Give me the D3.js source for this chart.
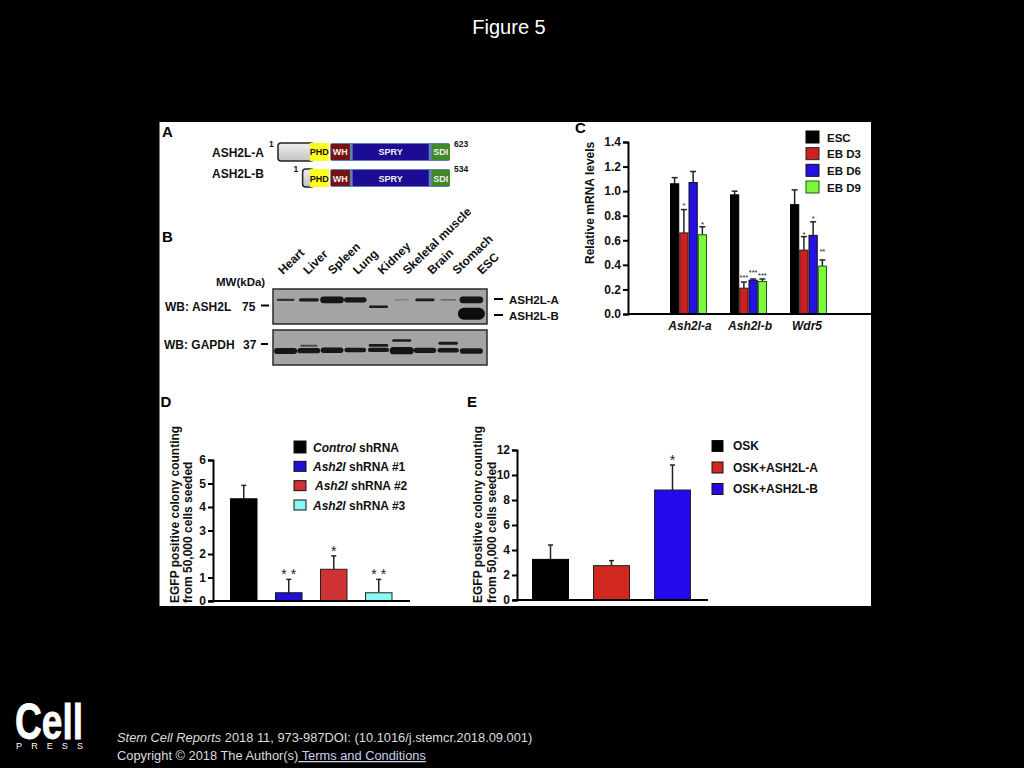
<!DOCTYPE html>
<html lang="en">
<head>
    <meta charset="UTF-8">
    <title>Figure 5</title>
    <script src="https://d3js.org/d3.v7.min.js"></script>
    <style>
        html, body { margin: 0; background: #000; overflow: hidden; }
        svg { display: block; font-family: "Liberation Sans", Arial, sans-serif; }
        .axis path, .axis line { stroke: #000; stroke-width: 2px; }
        .axis text { font-size: 12px; font-weight: bold; fill: #111; }
        .lbl { font-weight: bold; fill: #111; }
    </style>
</head>
<body>
<svg id="fig" width="1024" height="768"></svg>
<script>
    // panel A, domains in amino acids
    const domainNames = ["PHD", "WH", "SPRY", "SDI"];
    const domainStart = [116, 192, 271, 557];
    const domainEnd = [185, 261, 546, 623];
    const domainColors = ["#ffff1e", "#761212", "#1c0c94", "#40882a"];
    const isoforms = ["ASH2L-A", "ASH2L-B"];
    const isoformStart = [1, 90];
    const isoformEnd = [623, 534];

    // panel B, [lane, migration, signal]
    const tissues = ["Heart", "Liver", "Spleen", "Lung", "Kidney", "Skeletal muscle", "Brain", "Stomach", "ESC"];
    const ash2lBands = [[0, .31, .08], [1, .31, .16], [2, .31, .5], [3, .31, .36], [4, .51, .1],
        [5, .31, .01], [6, .31, .12], [7, .31, .03], [8, .31, .5], [8, .71, 1]];
    const gapdhBands = [[0, .6, .42], [1, .59, .38], [1, .45, .06], [2, .58, .38], [3, .57, .3],
        [4, .44, .14], [4, .57, .26], [5, .3, .1], [5, .59, .55], [6, .58, .36], [7, .38, .14], [7, .58, .28], [8, .6, .4]];

    // panel C
    const genes = ["Ash2l-a", "Ash2l-b", "Wdr5"];
    const stages = ["ESC", "EB D3", "EB D6", "EB D9"];
    const stageColors = ["#000000", "#d01f20", "#2412e2", "#7cf83c"];
    const stageStroke = ["#000", "#222", "#111", "#1c5a10"];
    const mrnaMean = [[1.06, .66, 1.07, .645], [.97, .21, .275, .265], [.89, .52, .64, .39]];
    const mrnaTop = [[1.11, .85, 1.16, .71], [1.0, .26, .285, .285], [1.01, .63, .75, .44]];
    const mrnaStars = [["", "*", "", "*"], ["", "***", "***", "***"], ["", "*", "*", "**"]];
    const mrnaStarLevel = [[0, .86, 0, .71], [0, .28, .32, .29], [0, .63, .76, .49]];

    // panel D
    const shNames = ["Control", "Ash2l", "Ash2l", "Ash2l"];
    const shSuffix = [" shRNA", " shRNA #1", " shRNA #2", " shRNA #3"];
    const shColors = ["#000000", "#2210d8", "#cf3234", "#86fbf6"];
    const shMean = [4.35, .35, 1.35, .35];
    const shTop = [4.92, .92, 1.92, .92];
    const shStars = ["", "* *", "*", "* *"];

    // panel E
    const oskNames = ["OSK", "OSK+ASH2L-A", "OSK+ASH2L-B"];
    const oskColors = ["#000000", "#d0281f", "#2508ee"];
    const oskMean = [3.25, 2.75, 8.8];
    const oskTop = [4.4, 3.15, 10.8];
    const oskStars = ["", "", "*"];

    const svg = d3.select("#fig");
    const defs = svg.append("defs");
    defs.append("filter").attr("id", "blur").attr("x", "-30%").attr("y", "-100%").attr("width", "160%").attr("height", "300%")
        .append("feGaussianBlur").attr("stdDeviation", 0.7);
    const grad = defs.append("linearGradient").attr("id", "boxGray").attr("x1", 0).attr("x2", 0).attr("y1", 0).attr("y2", 1);
    grad.append("stop").attr("offset", "0%").attr("stop-color", "#eeeeee");
    grad.append("stop").attr("offset", "100%").attr("stop-color", "#c4c4c4");

    svg.append("rect").attr("width", 1024).attr("height", 768).attr("fill", "#000");
    svg.append("rect").attr("x", 159.5).attr("y", 122).attr("width", 711.5).attr("height", 484).attr("fill", "#fff");

    function label(x, y, txt, size, opts = {}) {
        return svg.append("text").attr("class", "lbl").attr("x", x).attr("y", y)
            .attr("font-size", size).attr("text-anchor", opts.anchor || "start")
            .attr("font-style", opts.italic ? "italic" : null).text(txt);
    }

    function rotLabel(x, y, txt, size) {
        return svg.append("text").attr("class", "lbl").attr("font-size", size)
            .attr("transform", `translate(${x},${y}) rotate(-90)`).text(txt);
    }

    function dash(x0, x1, y) {
        svg.append("line").attr("x1", x0).attr("x2", x1).attr("y1", y).attr("y2", y)
            .attr("stroke", "#000").attr("stroke-width", 2);
    }

    function drawAxis(y, x, values, fmt) {
        return svg.append("g").attr("class", "axis").attr("transform", `translate(${x},0)`)
            .call(d3.axisLeft(y).tickValues(values).tickFormat(fmt).tickSize(5).tickPadding(2));
    }

    // one sided error bars, whisker first then the bar on top
    function drawBars(g, x, y, means, tops, fills, strokes, capW) {
        const idx = d3.range(means.length);
        const mid = i => x(i) + x.bandwidth() / 2;
        g.selectAll("line.err").data(idx).enter().append("line").attr("class", "err")
            .attr("x1", mid).attr("x2", mid)
            .attr("y1", i => y(means[i])).attr("y2", i => y(tops[i]))
            .attr("stroke", "#222").attr("stroke-width", 1.5);
        g.selectAll("line.cap").data(idx).enter().append("line").attr("class", "cap")
            .attr("x1", i => mid(i) - capW).attr("x2", i => mid(i) + capW)
            .attr("y1", i => y(tops[i])).attr("y2", i => y(tops[i]))
            .attr("stroke", "#222").attr("stroke-width", 1.5);
        g.selectAll("rect").data(idx).enter().append("rect")
            .attr("x", i => x(i) + .5).attr("y", i => y(means[i]))
            .attr("width", x.bandwidth() - 1).attr("height", i => y(0) - y(means[i]))
            .attr("fill", i => fills[i]).attr("stroke", i => strokes[i]).attr("stroke-width", 1);
    }

    function drawStars(x, y, levels, stars, size) {
        stars.forEach((s, i) => {
            if (!s) return;
            svg.append("text").attr("x", x(i) + x.bandwidth() / 2).attr("y", y(levels[i]))
                .attr("text-anchor", "middle").attr("font-size", size).attr("fill", "#222").text(s);
        });
    }

    function renderPanelA() {
        const x = d3.scaleLinear().domain([1, 623]).range([278, 450]);
        const y = d3.scaleBand().domain(isoforms).range([143, 187]).paddingInner(.31);
        isoforms.forEach((name, k) => {
            const top = y(name), h = y.bandwidth();
            svg.append("rect").attr("x", x(isoformStart[k])).attr("y", top).attr("width", x(116) - x(isoformStart[k]) + 4).attr("height", h)
                .attr("rx", 3).attr("fill", "url(#boxGray)").attr("stroke", "#222").attr("stroke-width", 1.5);
            svg.append("rect").attr("x", x(190)).attr("y", top).attr("width", x(623) - x(190)).attr("height", h)
                .attr("rx", 2).attr("fill", "#5f7fb5");
            domainNames.forEach((d, i) => {
                const dx = x(domainStart[i]), dw = x(domainEnd[i]) - dx;
                svg.append("rect").attr("x", dx).attr("y", top + (i ? 1 : 0)).attr("width", dw).attr("height", h - (i ? 2 : 0))
                    .attr("fill", domainColors[i]);
                svg.append("text").attr("x", dx + dw / 2).attr("y", top + h / 2 + 3.5).attr("text-anchor", "middle")
                    .attr("font-size", 9).attr("font-weight", "bold").attr("fill", i ? "#eee" : "#111").text(d);
            });
            label(212, k ? 177.5 : 157, name, 12);
            label(x(isoformStart[k]) - 9, k ? 172 : 147, "1", 8.5);
            label(454, k ? 172 : 147, isoformEnd[k], 8.5);
        });
    }

    function renderBlot(bands, top, height) {
        const x = d3.scaleBand().domain(d3.range(tissues.length)).range([274, 483]);
        const y = d3.scaleLinear().domain([0, 1]).range([top, top + height]);
        const thick = d3.scaleLinear().domain([0, 1]).range([1.4, 12]);
        const wide = d3.scaleLinear().domain([0, .1, .4, 1]).range([14, 19, 23, 27]);
        const dark = d3.scaleLinear().domain([0, .1, 1]).range([.12, .9, 1]);
        const g = svg.append("g");
        g.append("rect").attr("x", 273).attr("y", top).attr("width", 214).attr("height", height)
            .attr("fill", "#a4a4a4").attr("stroke", "#2a2a2a").attr("stroke-width", 1.5);
        g.selectAll("rect.band").data(bands).enter().append("rect").attr("class", "band")
            .attr("x", d => x(d[0]) + x.bandwidth() / 2 - wide(d[2]) / 2).attr("y", d => y(d[1]) - thick(d[2]) / 2)
            .attr("width", d => wide(d[2])).attr("height", d => thick(d[2]))
            .attr("rx", d => thick(d[2]) / 2)
            .attr("fill", "#0a0a0a").attr("opacity", d => dark(d[2])).attr("filter", "url(#blur)");
    }

    function renderPanelB() {
        renderBlot(ash2lBands, 289, 35);
        renderBlot(gapdhBands, 330, 35);
        const x = d3.scalePoint().domain(tissues).range([283, 482]);
        svg.selectAll("text.tissue").data(tissues).enter().append("text").attr("class", "lbl tissue")
            .attr("font-size", 12)
            .attr("transform", d => `translate(${x(d)},275) rotate(-44)`).text(d => d);
        label(216, 286, "MW(kDa)", 11.5);
        label(165, 311, "WB: ASH2L", 12);
        label(242, 311, "75", 12);
        label(164, 349, "WB: GAPDH", 12);
        label(243, 349, "37", 12);
        label(509, 304, "ASH2L-A", 11.5);
        label(509, 320, "ASH2L-B", 11.5);
        dash(261, 269, 305.5);
        dash(261, 268, 344);
        dash(494, 503, 299);
        dash(494, 503, 315);
    }

    function renderPanelC() {
        const x0 = d3.scaleBand().domain(genes).range([658.5, 838.5]).paddingInner(23 / 60).paddingOuter(11.5 / 60);
        const y = d3.scaleLinear().domain([0, 1.4]).range([314, 142]);
        genes.forEach((gene, k) => {
            const x = d3.scaleBand().domain(d3.range(stages.length)).range([x0(gene), x0(gene) + x0.bandwidth()]);
            drawBars(svg.append("g"), x, y, mrnaMean[k], mrnaTop[k], stageColors, stageStroke, 3);
            drawStars(x, y, mrnaStarLevel[k], mrnaStars[k], 7.5);
        });
        svg.append("line").attr("x1", 628).attr("x2", 871).attr("y1", y(0)).attr("y2", y(0)).attr("stroke", "#000").attr("stroke-width", 2);
        drawAxis(y, 628, d3.range(0, 1.41, .2), d3.format(".1f"));
        genes.forEach(g => label(x0(g) + x0.bandwidth() / 2 + (g === "Wdr5" ? -1.5 : 1.5), 330, g, 12, { anchor: "middle", italic: true }));
        rotLabel(594, 264, "Relative mRNA levels", 12);
        const ly = d3.scalePoint().domain(stages).range([137, 187]);
        stages.forEach((s, i) => {
            svg.append("rect").attr("x", 806).attr("y", ly(s) - 6).attr("width", 13).attr("height", 12)
                .attr("fill", stageColors[i]).attr("stroke", stageStroke[i]);
            label(827, ly(s) + 4.5, s, 11.5);
        });
    }

    function renderPanelD() {
        const x = d3.scaleBand().domain(d3.range(shMean.length)).range([221.25, 401.25]).paddingInner(17.5 / 45).paddingOuter(8.75 / 45);
        const y = d3.scaleLinear().domain([0, 6]).range([601, 460]);
        drawBars(svg.append("g"), x, y, shMean, shTop, shColors, ["#000", "#111", "#222", "#222"], 2.5);
        drawStars(x, y, shTop, shStars, 14);
        svg.append("line").attr("x1", 209).attr("x2", 410).attr("y1", y(0)).attr("y2", y(0)).attr("stroke", "#000").attr("stroke-width", 2);
        drawAxis(y, 213, d3.range(0, 7), d3.format("d"));
        rotLabel(179, 603, "EGFP positive colony counting", 12);
        rotLabel(192, 603, "from 50,000 cells seeded", 12);
        const ly = d3.scalePoint().domain(d3.range(4)).range([447, 505]);
        shNames.forEach((n, i) => {
            svg.append("rect").attr("x", 294).attr("y", ly(i) - (i ? 5 : 6)).attr("width", 12).attr("height", i ? 10 : 12)
                .attr("fill", shColors[i]).attr("stroke", "#111");
            const t = label(i === 2 ? 315 : 313, ly(i) + 4.5, "", 12);
            t.append("tspan").attr("font-style", "italic").text(n);
            t.append("tspan").text(shSuffix[i]);
        });
    }

    function renderPanelE() {
        const x = d3.scaleBand().domain(d3.range(oskMean.length)).range([520, 703]).paddingInner(24 / 61).paddingOuter(12 / 61);
        const y = d3.scaleLinear().domain([0, 12]).range([600, 450]);
        drawBars(svg.append("g"), x, y, oskMean, oskTop, oskColors, ["#000", "#222", "#222"], 2.5);
        drawStars(x, y, oskTop, oskStars, 14);
        svg.append("line").attr("x1", 513).attr("x2", 708).attr("y1", y(0)).attr("y2", y(0)).attr("stroke", "#000").attr("stroke-width", 2);
        drawAxis(y, 517, d3.range(0, 13, 2), d3.format("d"));
        rotLabel(482, 603, "EGFP positive colony counting", 12);
        rotLabel(496, 603, "from 50,000 cells seeded", 12);
        const ly = d3.scalePoint().domain(oskNames).range([446, 489]);
        oskNames.forEach((n, i) => {
            svg.append("rect").attr("x", 712).attr("y", ly(n) - 5.5).attr("width", 11).attr("height", 11)
                .attr("fill", oskColors[i]).attr("stroke", "#111");
            label(733, ly(n) + 4, n, 12);
        });
    }

    function renderFrame() {
        svg.append("text").attr("x", 509).attr("y", 34).attr("text-anchor", "middle")
            .attr("font-size", 20).attr("fill", "#fff").text("Figure 5");
        [["A", 162, 137], ["B", 162, 242], ["C", 575, 133], ["D", 160.5, 407], ["E", 467, 407]]
            .forEach(d => label(d[1], d[2], d[0], 15).style("fill", "#000"));

        // logo
        svg.append("text").attr("x", 15).attr("y", 739).attr("font-size", 50).attr("font-weight", "bold")
            .attr("fill", "#fff").attr("stroke", "#fff").attr("stroke-width", .8)
            .attr("textLength", 68).attr("lengthAdjust", "spacingAndGlyphs").text("Cell");
        svg.append("text").attr("x", 16).attr("y", 749).attr("font-size", 9).attr("fill", "#fff")
            .attr("textLength", 67).text("PRESS");

        const foot = svg.append("text").attr("x", 117).attr("y", 742).attr("font-size", 12.85).attr("fill", "#ddd");
        foot.append("tspan").attr("font-style", "italic").text("Stem Cell Reports");
        foot.append("tspan").text(" 2018 11, 973-987DOI: (10.1016/j.stemcr.2018.09.001)");
        const copy = svg.append("text").attr("x", 117).attr("y", 760).attr("font-size", 12.85).attr("fill", "#ddd");
        copy.append("tspan").text("Copyright © 2018 The Author(s)");
        copy.append("tspan").attr("fill", "#c9d0ea").attr("text-decoration", "underline").text(" Terms and Conditions");
    }

    renderPanelA();
    renderPanelB();
    renderPanelC();
    renderPanelD();
    renderPanelE();
    renderFrame();
</script>
</body>
</html>
